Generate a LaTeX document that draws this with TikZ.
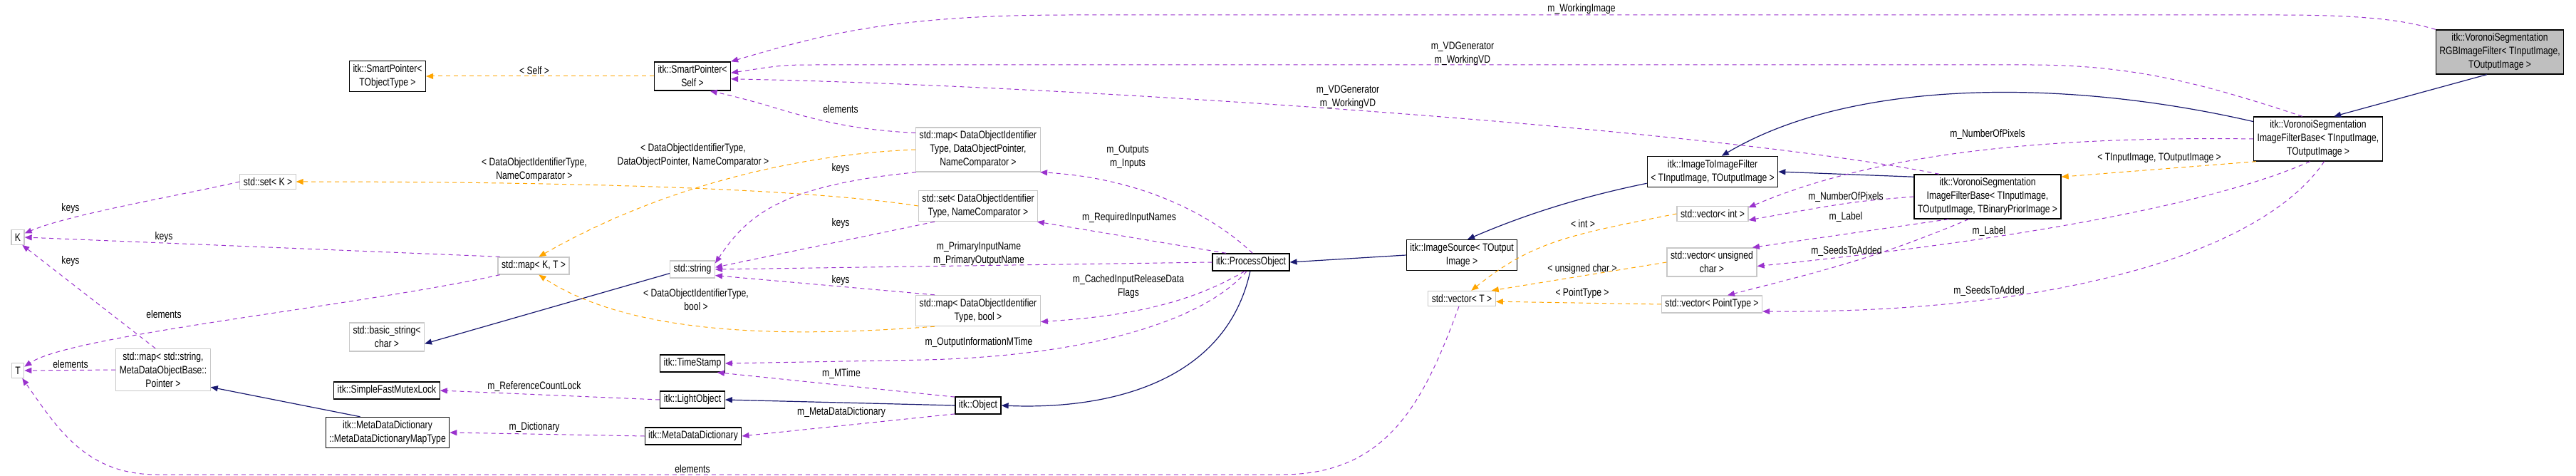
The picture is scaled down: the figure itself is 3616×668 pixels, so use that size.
\documentclass[tikz,border=0pt]{standalone}
\usepackage{fontspec}
\setmainfont{Liberation Sans}[FakeStretch=0.8]
\usetikzlibrary{arrows.meta}
\definecolor{colorinherit}{RGB}{ 25, 25,112}
\definecolor{coloruse}    {RGB}{154, 50,205}
\definecolor{colortempl}  {RGB}{255,165,  0}
\definecolor{colorgray}   {RGB}{191,191,191}
\definecolor{colorborder} {RGB}{200,200,200}

\begin{document}
\begin{tikzpicture}[
    x=0.5pt, y=-0.5pt,
    every node/.style={font={\fontsize{7.6}{9.5}\selectfont}},
    cls/.style={draw=black,line width=0.6pt,fill=white,align=center,inner sep=2.5pt},
    ext/.style={draw=colorborder,line width=0.6pt,fill=white,align=center,inner sep=2.5pt},
    lbl/.style={align=center,inner sep=0pt},
    inherit/.style={colorinherit,line width=0.6pt,-{Triangle[length=5pt,width=4pt]}},
    use/.style={coloruse,line width=0.5pt,dash pattern=on 3pt off 2.5pt,-{Triangle[length=5pt,width=4pt]}},
    templ/.style={colortempl,line width=0.5pt,dash pattern=on 3pt off 2.5pt,-{Triangle[length=5pt,width=4pt]}},
]
    \useasboundingbox (0,0) rectangle (3616,668);

    % Classes
    \node[cls,fill=colorgray] (rgb) at (3509,73) {itk::VoronoiSegmentation\\RGBImageFilter< TInputImage,\\TOutputImage >};
    \node[cls] (base) at (3254,195) {itk::VoronoiSegmentation\\ImageFilterBase< TInputImage,\\TOutputImage >};
    \node[cls] (prior) at (2790,276) {itk::VoronoiSegmentation\\ImageFilterBase< TInputImage,\\TOutputImage, TBinaryPriorImage >};
    \node[cls] (i2i) at (2404,241) {itk::ImageToImageFilter\\< TInputImage, TOutputImage >};
    \node[cls] (src) at (2052,358) {itk::ImageSource< TOutput\\Image >};
    \node[cls] (po) at (1756,368) {itk::ProcessObject};
    \node[cls] (obj) at (1373,569) {itk::Object};
    \node[cls] (lo) at (972,561) {itk::LightObject};
    \node[cls] (ts) at (972,510) {itk::TimeStamp};
    \node[cls] (mdd) at (973,612) {itk::MetaDataDictionary};
    \node[cls] (mutex) at (543,548) {itk::SimpleFastMutexLock};
    \node[cls] (mddmap) at (544,607) {itk::MetaDataDictionary\\::MetaDataDictionaryMapType};
    \node[cls] (spself) at (972,107) {itk::SmartPointer<\\Self >};
    \node[cls] (spobj) at (544,107) {itk::SmartPointer<\\TObjectType >};

    % Templates
    \node[ext] (vint) at (2404,300) {std::vector< int >};
    \node[ext] (vuchar) at (2403,368) {std::vector< unsigned\\char >};
    \node[ext] (vpt) at (2403,427) {std::vector< PointType >};
    \node[ext] (vT) at (2052,419) {std::vector< T >};
    \node[ext] (mapdop) at (1373,210) {std::map< DataObjectIdentifier\\Type, DataObjectPointer,\\NameComparator >};
    \node[ext] (setdoi) at (1373,289) {std::set< DataObjectIdentifier\\Type, NameComparator >};
    \node[ext] (mapbool) at (1373,436) {std::map< DataObjectIdentifier\\Type, bool >};
    \node[ext] (str) at (972,378) {std::string};
    \node[ext] (bstr) at (543,473) {std::basic\_string<\\char >};
    \node[ext] (mapKT) at (749,373) {std::map< K, T >};
    \node[ext] (setK) at (376,255) {std::set< K >};
    \node[ext] (mapmeta) at (229,519) {std::map< std::string,\\MetaDataObjectBase::\\Pointer >};
    \node[ext] (K) at (25,333) {K};
    \node[ext] (T) at (25,520) {T};

    % Inheritance
    \draw[inherit] (rgb.240) -- (base.55);
    \draw[inherit] (base.165) .. controls (2900,110) and (2600,110) .. (i2i.60);
    \draw[inherit] (prior.165) -- (i2i.east);
    \draw[inherit] (i2i.190) .. controls (2200,280) and (2120,310) .. (src.70);
    \draw[inherit] (src.west) -- (po.east);
    \draw[inherit] (po.265) .. controls (1720,540) and (1550,575) .. (obj.east);
    \draw[inherit] (obj.west) -- (lo.east);
    \draw[inherit] (mddmap.150) -- (mapmeta.-20);
    \draw[inherit] (str.190) -- (bstr.-10);

    % Template instances
    \draw[templ] (base.200) -- (prior.15);
    \node[lbl] (ltii) at (3031,222) {< TInputImage, TOutputImage >};
    \draw[templ] (vint.west) .. controls (2200,330) and (2150,340) .. (vT.40);
    \node[lbl] (lint) at (2222,314) {< int >};
    \draw[templ] (vuchar.west) -- (vT.15);
    \node[lbl] (luchar) at (2221,378) {< unsigned char >};
    \draw[templ] (vpt.west) -- (vT.-5);
    \node[lbl] (lpt) at (2221,412) {< PointType >};
    \draw[templ] (spself.west) -- (spobj.east);
    \node[lbl] (lself) at (750,99) {< Self >};
    \draw[templ] (setdoi.west) .. controls (1100,260) and (700,255) .. (setK.east);
    \node[lbl] (lsetK) at (750,238) {< DataObjectIdentifierType,\\NameComparator >};
    \draw[templ] (mapdop.west) .. controls (1150,215) and (950,250) .. (mapKT.60);
    \node[lbl] (lmapdop) at (973,218) {< DataObjectIdentifierType,\\DataObjectPointer, NameComparator >};
    \draw[templ] (mapbool.200) .. controls (1150,470) and (900,480) .. (mapKT.-60);
    \node[lbl] (lmapbool) at (977,421) {< DataObjectIdentifierType,\\bool >};

    % Members
    \draw[use] (rgb.north west) .. controls (3380,30) and (3330,21) .. (3200,21) -- (1500,21) .. controls (1250,21) and (1150,50) .. (spself.north east);
    \node[lbl] (lwi) at (2220,13) {m\_WorkingImage};
    \draw[use] (base.125) .. controls (3100,120) and (3000,91) .. (2850,91) -- (1150,91) .. controls (1100,91) .. (spself.5);
    \node[lbl] (lvd1) at (2053,75) {m\_VDGenerator\\m\_WorkingVD};
    \draw[use] (prior.155) .. controls (2400,180) and (1500,120) .. (spself.-4);
    \node[lbl] (lvd2) at (1892,136) {m\_VDGenerator\\m\_WorkingVD};
    \draw[use] (base.west) .. controls (2800,190) and (2600,230) .. (vint.10);
    \node[lbl] (lnp1) at (2790,189) {m\_NumberOfPixels};
    \draw[use] (prior.west) .. controls (2600,283) .. (vint.-10);
    \node[lbl] (lnp2) at (2591,277) {m\_NumberOfPixels};
    \draw[use] (base.250) .. controls (3100,290) and (2800,340) .. (vuchar.-5);
    \node[lbl] (lla1) at (2792,325) {m\_Label};
    \draw[use] (prior.210) -- (vuchar.20);
    \node[lbl] (lla2) at (2591,305) {m\_Label};
    \draw[use] (base.-75) .. controls (3180,350) and (2900,440) .. (vpt.-8);
    \node[lbl] (lsa1) at (2792,409) {m\_SeedsToAdded};
    \draw[use] (prior.230) .. controls (2640,360) and (2560,380) .. (vpt.30);
    \node[lbl] (lsa2) at (2592,353) {m\_SeedsToAdded};
    \draw[use] (mapdop.165) .. controls (1150,180) and (1100,150) .. (spself.-40);
    \node[lbl] (lel1) at (1180,153) {elements};
    \draw[use] (mapdop.200) .. controls (1100,260) and (1050,300) .. (str.15);
    \node[lbl] (lk1) at (1180,237) {keys};
    \draw[use] (setdoi.200) -- (str.5);
    \node[lbl] (lk2) at (1180,314) {keys};
    \draw[use] (mapbool.160) -- (str.-15);
    \node[lbl] (lk3) at (1180,394) {keys};
    \draw[use] (po.80) .. controls (1700,300) and (1600,250) .. (mapdop.-20);
    \node[lbl] (lio) at (1583,220) {m\_Outputs\\m\_Inputs};
    \draw[use] (po.160) -- (setdoi.-15);
    \node[lbl] (lrin) at (1585,306) {m\_RequiredInputNames};
    \draw[use] (po.west) -- (str.east);
    \node[lbl] (lpin) at (1374,356) {m\_PrimaryInputName\\m\_PrimaryOutputName};
    \draw[use] (po.235) .. controls (1680,420) and (1600,443) .. (mapbool.-10);
    \node[lbl] (lcir) at (1584,402) {m\_CachedInputReleaseData\\Flags};
    \draw[use] (po.245) .. controls (1680,460) and (1500,500) .. (1300,505) -- (ts.east);
    \node[lbl] (loim) at (1374,481) {m\_OutputInformationMTime};
    \draw[use] (obj.160) -- (ts.-20);
    \node[lbl] (lmt) at (1181,525) {m\_MTime};
    \draw[use] (obj.200) -- (mdd.east);
    \node[lbl] (lmdd) at (1181,579) {m\_MetaDataDictionary};
    \draw[use] (lo.west) -- (mutex.east);
    \node[lbl] (lrcl) at (750,543) {m\_ReferenceCountLock};
    \draw[use] (mdd.west) -- (mddmap.east);
    \node[lbl] (ldic) at (750,600) {m\_Dictionary};
    \draw[use] (setK.west) .. controls (250,275) and (100,300) .. (K.30);
    \node[lbl] (lk4) at (99,293) {keys};
    \draw[use] (mapKT.165) -- (K.east);
    \node[lbl] (lk5) at (230,333) {keys};
    \draw[use] (mapmeta.110) -- (K.-60);
    \node[lbl] (lk6) at (99,367) {keys};
    \draw[use] (mapKT.195) .. controls (500,430) and (100,470) .. (T.30);
    \node[lbl] (lel2) at (230,441) {elements};
    \draw[use] (mapmeta.west) -- (T.east);
    \node[lbl] (lel3) at (99,511) {elements};
    \draw[use] (vT.-110) .. controls (2000,560) and (1950,666) .. (1800,666) -- (220,666) .. controls (120,666) and (80,600) .. (T.-60);
    \node[lbl] (lel4) at (972,658) {elements};
\end{tikzpicture}
\end{document}
